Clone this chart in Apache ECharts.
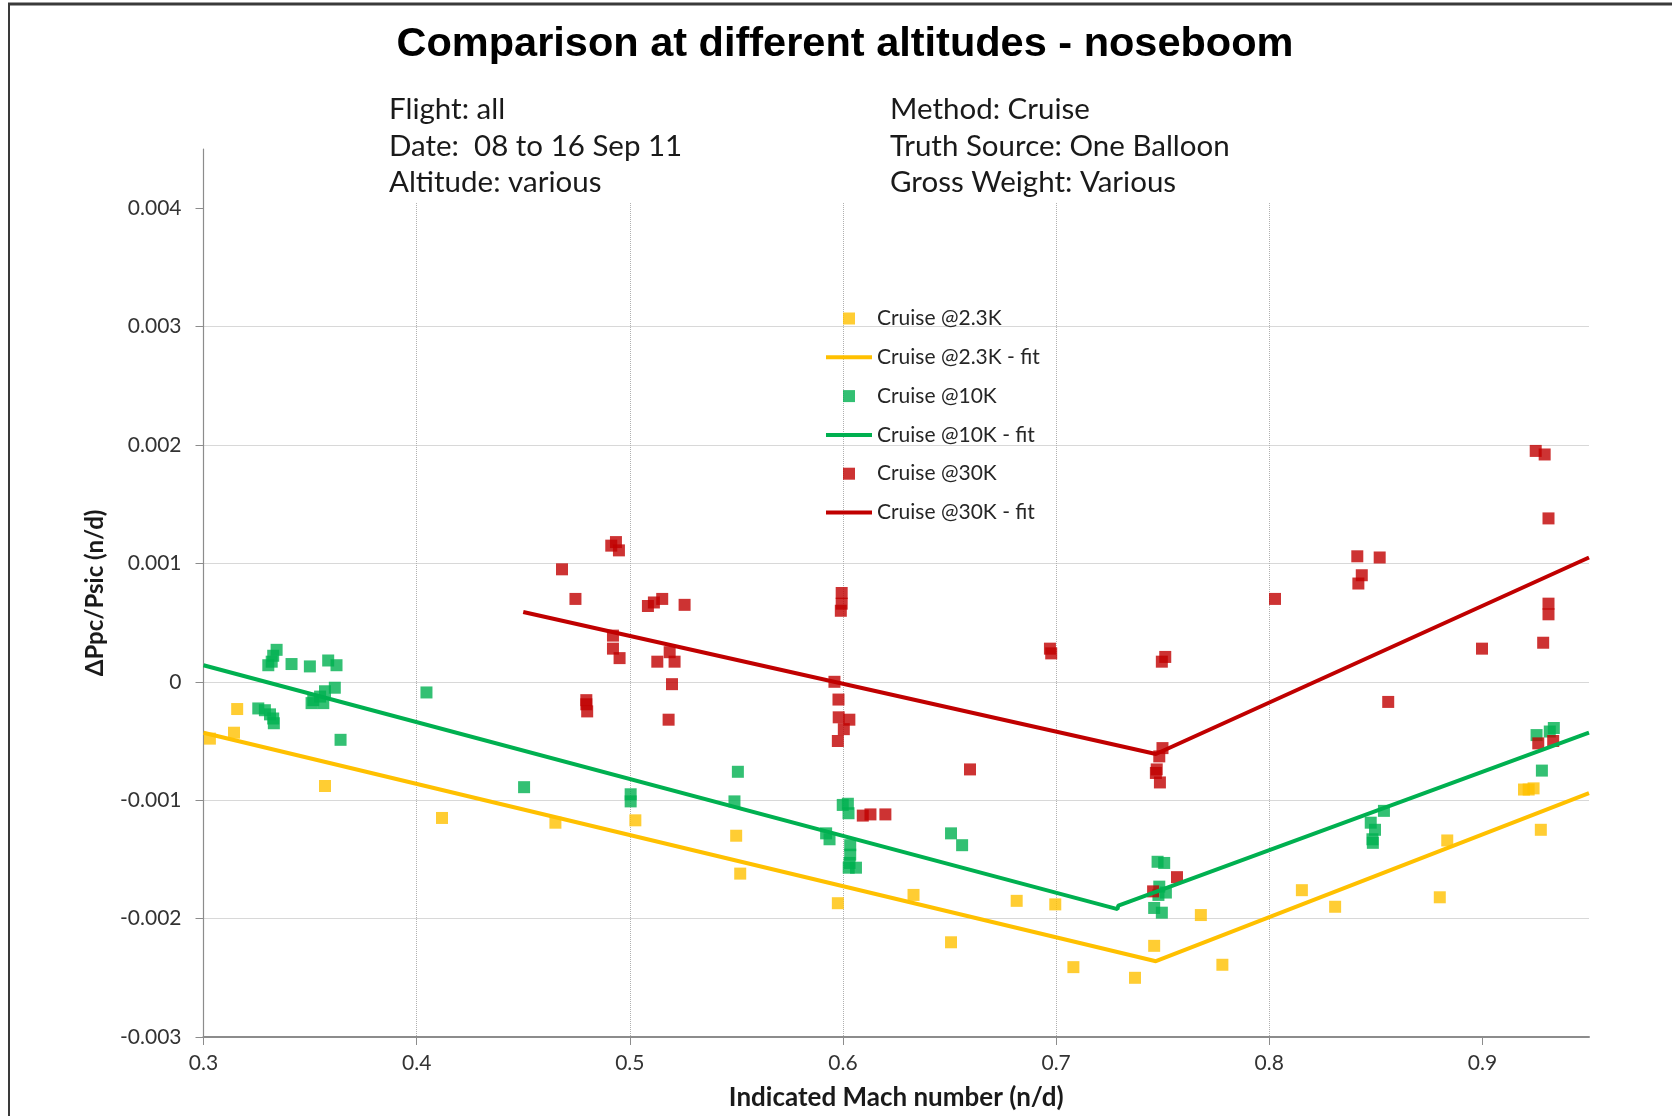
<!DOCTYPE html>
<html><head><meta charset="utf-8">
<script src="https://cdn.jsdelivr.net/npm/echarts@6/dist/echarts.min.js"></script>
<style>html,body{margin:0;padding:0;background:#fff}#c{width:1672px;height:1116px}</style>
</head><body><div id="c"></div>
<script>
const titleText = 'Comparison at different altitudes - noseboom';
const infoLeft = ['Flight: all', 'Date:  08 to 16 Sep 11', 'Altitude: various'];
const infoRight = ['Method: Cruise', 'Truth Source: One Balloon', 'Gross Weight: Various'];
const xAxisTitle = 'Indicated Mach number (n/d)';
const yAxisTitle = '\u0394Ppc/Psic (n/d)';
const xTickValues = [0.3, 0.4, 0.5, 0.6, 0.7, 0.8, 0.9];
const yTickValues = [-0.003, -0.002, -0.001, 0, 0.001, 0.002, 0.003, 0.004];
const seriesNames = ['Cruise @2.3K', 'Cruise @2.3K - fit', 'Cruise @10K', 'Cruise @10K - fit', 'Cruise @30K', 'Cruise @30K - fit'];

const cruise23 = [
  [0.3030, -0.00048], [0.3143, -0.00043], [0.3158, -0.00023], [0.3570, -0.00088],
  [0.4119, -0.00115], [0.4651, -0.00119], [0.5026, -0.00117], [0.5499, -0.00130],
  [0.5518, -0.00162], [0.5976, -0.00187], [0.6331, -0.00180], [0.6507, -0.00220],
  [0.6815, -0.00185], [0.6996, -0.00188], [0.7081, -0.00241], [0.7370, -0.00250],
  [0.7460, -0.00223], [0.7679, -0.00197], [0.7780, -0.00239], [0.8153, -0.00176],
  [0.8309, -0.00190], [0.8800, -0.00182], [0.8835, -0.00134], [0.9195, -0.00091],
  [0.9217, -0.00091], [0.9240, -0.00090], [0.9274, -0.00125]
];
const cruise23Fit = [[0.3, -0.00043], [0.7468, -0.00236], [0.95, -0.00094]];

const cruise10 = [
  [0.3304, 0.00014], [0.3320, 0.00017], [0.3327, 0.00022], [0.3343, 0.00027],
  [0.3413, 0.00015], [0.3499, 0.00013], [0.3585, 0.00018], [0.3624, 0.00014],
  [0.3257, -0.000225], [0.3288, -0.00024], [0.3312, -0.000275], [0.3327, -0.00031], [0.3330, -0.00035],
  [0.3616, -0.00005], [0.3570, -0.00008], [0.3547, -0.000125], [0.3515, -0.000155], [0.3507, -0.00018], [0.3562, -0.00018],
  [0.3643, -0.00049], [0.4046, -0.00009], [0.4504, -0.00089],
  [0.5004, -0.00095], [0.5004, -0.00101], [0.5491, -0.00101], [0.5507, -0.00076],
  [0.5921, -0.00128], [0.5937, -0.00133],
  [0.5999, -0.00104], [0.6023, -0.00103], [0.6026, -0.00111],
  [0.6034, -0.00138], [0.6034, -0.00146], [0.6031, -0.00153], [0.6061, -0.00157], [0.6027, -0.00157],
  [0.6507, -0.00128], [0.6559, -0.00138],
  [0.7476, -0.00152], [0.7507, -0.00153],
  [0.7484, -0.00173], [0.7515, -0.00178], [0.7480, -0.00180],
  [0.7460, -0.00191], [0.7496, -0.00195],
  [0.8476, -0.00119], [0.8496, -0.00125], [0.8484, -0.00133], [0.8486, -0.00136], [0.8538, -0.00109],
  [0.9254, -0.00045], [0.9316, -0.00042], [0.9335, -0.00039], [0.9279, -0.00075]
];
const cruise10Fit = [[0.3, 0.00014], [0.7288, -0.00192], [0.7292, -0.00189], [0.95, -0.00043]];

const cruise30 = [
  [0.4682, 0.00095], [0.4745, 0.00070],
  [0.4796, -0.000155], [0.4796, -0.00019], [0.4800, -0.00025],
  [0.4913, 0.00115], [0.4935, 0.00118], [0.4949, 0.00111],
  [0.4921, 0.00039], [0.4921, 0.00028], [0.4952, 0.00020],
  [0.5085, 0.00064], [0.5113, 0.00067], [0.5152, 0.00070], [0.5257, 0.00065],
  [0.5129, 0.00017], [0.5187, 0.00025], [0.5210, 0.00017],
  [0.5198, -0.00002], [0.5182, -0.00032],
  [0.5994, 0.00075], [0.5994, 0.00066], [0.5990, 0.00060],
  [0.5960, 0.00000], [0.5979, -0.00015], [0.5980, -0.00030], [0.6030, -0.00032], [0.6004, -0.00040], [0.5976, -0.00050],
  [0.6093, -0.00113], [0.6129, -0.00112], [0.6199, -0.00112],
  [0.6596, -0.00074],
  [0.6971, 0.00028], [0.6977, 0.00024],
  [0.7512, 0.00021], [0.7496, 0.00017],
  [0.7499, -0.00056], [0.7484, -0.00063], [0.7472, -0.00074], [0.7468, -0.00077], [0.7487, -0.00085],
  [0.7567, -0.00165], [0.7455, -0.00177],
  [0.8027, 0.00070],
  [0.8418, 0.00083], [0.8434, 0.00090], [0.8413, 0.00106], [0.8518, 0.00105],
  [0.8558, -0.00017], [0.8998, 0.00028],
  [0.9250, 0.00195], [0.9292, 0.00192], [0.9310, 0.00138],
  [0.9310, 0.00066], [0.9310, 0.00057], [0.9285, 0.00033],
  [0.9262, -0.00052], [0.9332, -0.00050]
];
const cruise30Fit = [[0.45, 0.00059], [0.7468, -0.00061], [0.95, 0.00105]];

const colors = { y: '#FFC000', g: '#00B050', r: '#C00000' };
const axisGrey = '#8c8c8c';
const textFont = 'Lato, "Noto Sans", sans-serif';
const squareIcon = 'path://M0,0 L10,0 L10,10 L0,10 Z';
const lineIcon = 'path://M0,0 L46,0 L46,4 L0,4 Z';

function scatter(name, data, color) {
  return { name, type: 'scatter', data, symbol: 'rect', symbolSize: 12,
    itemStyle: { color }, emphasis: { disabled: true } };
}
function fit(name, data, color) {
  return { name, type: 'line', data, symbol: 'none', smooth: false,
    lineStyle: { color, width: 4 }, itemStyle: { color }, emphasis: { disabled: true } };
}

const infoGraphics = [];
const lineYs = [109, 146, 182];
infoLeft.forEach((t, i) => infoGraphics.push({ type: 'text', z: 101, x: 389, y: lineYs[i],
  style: { text: t, font: '29.5px ' + textFont, fill: '#1a1a1a', textVerticalAlign: 'middle' } }));
infoRight.forEach((t, i) => infoGraphics.push({ type: 'text', z: 101, x: 890, y: lineYs[i],
  style: { text: t, font: '29.5px ' + textFont, fill: '#1a1a1a', textVerticalAlign: 'middle' } }));

const chart = echarts.init(document.getElementById('c'), null, { renderer: 'canvas' });
chart.setOption({
  backgroundColor: '#ffffff',
  animation: false,
  grid: { left: 203.5, right: 83, top: 149, bottom: 76.7, containLabel: false },
  legend: {
    orient: 'vertical', left: 826, top: 308, padding: 0,
    itemWidth: 46, itemHeight: 12, itemGap: 17.8, symbolKeepAspect: true,
    data: seriesNames.map((n, i) => ({ name: n, icon: i % 2 === 0 ? squareIcon : lineIcon })),
    textStyle: { fontFamily: textFont, fontSize: 21, color: '#262626', lineHeight: 20 },
    selectedMode: false
  },
  xAxis: {
    type: 'value', min: 0.3, max: 0.95, interval: 0.1,
    name: xAxisTitle, nameLocation: 'middle', nameGap: 48,
    nameTextStyle: { fontFamily: textFont, fontWeight: 'bold', fontSize: 26, color: '#1a1a1a' },
    axisLine: { show: true, onZero: false, lineStyle: { color: axisGrey, width: 2 } },
    axisTick: { show: true, length: 8, lineStyle: { color: axisGrey }, customValues: xTickValues },
    axisLabel: { margin: 16, fontFamily: textFont, fontSize: 21, color: '#333', customValues: xTickValues,
      formatter: v => String(Math.round(v * 10) / 10) },
    splitLine: { show: true, showMaxLine: false, lineStyle: { color: '#b0b0b0', type: 'dotted', width: 1 } }
  },
  yAxis: {
    type: 'value', min: -0.003, max: 0.0045, interval: 0.001,
    name: yAxisTitle, nameLocation: 'middle', nameGap: 96,
    nameTextStyle: { fontFamily: textFont, fontWeight: 'bold', fontSize: 24, color: '#1a1a1a' },
    axisLine: { show: true, onZero: false, lineStyle: { color: axisGrey, width: 1.2 } },
    axisTick: { show: true, length: 8, lineStyle: { color: axisGrey }, customValues: yTickValues },
    axisLabel: { margin: 22, fontFamily: textFont, fontSize: 21, color: '#333', customValues: yTickValues,
      formatter: v => { const r = Math.round(v * 10000) / 10000; return r === 0 ? '0' : String(r); } },
    splitLine: { show: true, showMaxLine: false, showMinLine: false, lineStyle: { color: '#b0b0b0', type: 'dotted', width: 1 } }
  },
  graphic: [
    { type: 'rect', z: 100, shape: { x: 383, y: 140, width: 947, height: 62 }, style: { fill: '#ffffff' } },
    { type: 'text', z: 101, x: 845, y: 45,
      style: { text: titleText, font: 'bold 41.5px "Liberation Sans", Arial, sans-serif', fill: '#000', textAlign: 'center', textVerticalAlign: 'middle' } },
    ...infoGraphics,
    { type: 'line', z: 102, shape: { x1: 8, y1: 4, x2: 1672, y2: 4 }, style: { stroke: '#3a3a3a', lineWidth: 3 } },
    { type: 'line', z: 102, shape: { x1: 9, y1: 3, x2: 9, y2: 1116 }, style: { stroke: '#3a3a3a', lineWidth: 2 } }
  ],
  series: [
    scatter(seriesNames[0], cruise23, colors.y),
    fit(seriesNames[1], cruise23Fit, colors.y),
    scatter(seriesNames[2], cruise10, colors.g),
    fit(seriesNames[3], cruise10Fit, colors.g),
    scatter(seriesNames[4], cruise30, colors.r),
    fit(seriesNames[5], cruise30Fit, colors.r)
  ]
});
</script></body></html>
